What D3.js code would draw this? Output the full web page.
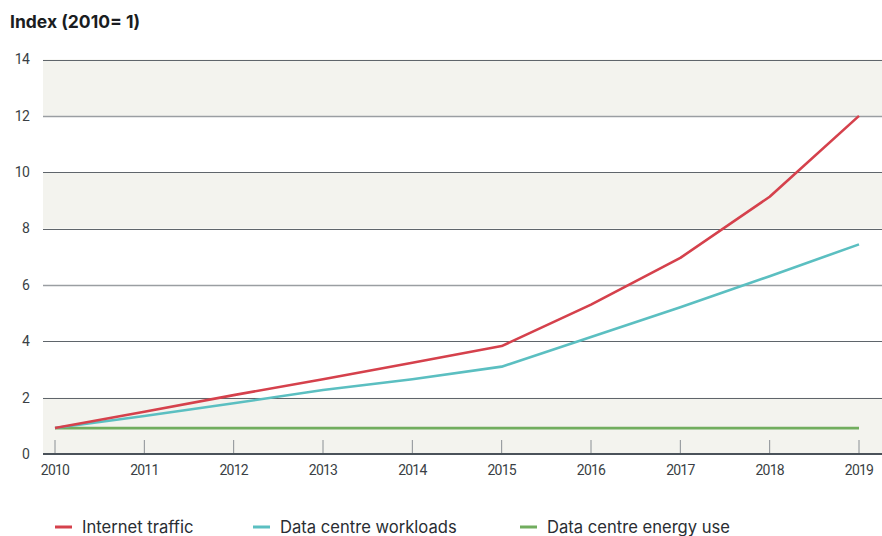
<!DOCTYPE html>
<html><head><meta charset="utf-8">
<script src="https://cdn.jsdelivr.net/npm/d3@7"></script>
<style>
body{margin:0;background:#fff;}
svg{display:block;}
.tick-lbl{font-family:"Roboto",sans-serif;font-size:14px;fill:#3a3f45;letter-spacing:-0.8px;}
</style>
</head><body>
<svg id="c" width="882" height="536"></svg>
<script>
const years = [2010,2011,2012,2013,2014,2015,2016,2017,2018,2019];
const internetTraffic = [0.92,1.50,2.09,2.65,3.24,3.83,5.30,6.96,9.13,12.0];
const dcWorkloads = [0.92,1.35,1.80,2.27,2.65,3.10,4.15,5.21,6.31,7.44];
const dcEnergy = [0.92,0.92,0.92,0.92,0.92,0.92,0.92,0.92,0.92,0.92];
const yTicks = [0,2,4,6,8,10,12,14];
const shadedBands = [[0,2],[8,10],[12,14]];
const seriesNames = ["Internet traffic","Data centre workloads","Data centre energy use"];
const seriesColors = ["#d5414c","#5bbfc1","#71ad5e"];
const title = "Index (2010= 1)";

const svg = d3.select("#c");
const x = d3.scaleLinear().domain([2010,2019]).range([55,859]);
const y = d3.scaleLinear().domain([0,14]).range([454,59.5]);
const left = 43, right = 882;

svg.append("g").selectAll("rect").data(shadedBands).join("rect")
  .attr("x",left).attr("width",right-left)
  .attr("y",d=>y(d[1])).attr("height",d=>y(d[0])-y(d[1]))
  .attr("fill","#f3f3ee");

svg.append("g").selectAll("line").data(yTicks.filter(t=>t>0)).join("line")
  .attr("x1",left).attr("x2",right)
  .attr("y1",d=>Math.round(y(d))+0.5).attr("y2",d=>Math.round(y(d))+0.5)
  .attr("stroke",d=>(d===12||d===6)?"#9a9ea2":"#5f656b").attr("stroke-width",d=>(d===12||d===6)?1.5:1);

svg.append("g").selectAll("text").data(yTicks).join("text")
  .attr("class","tick-lbl")
  .attr("x",29).attr("y",d=>y(d)).attr("dy","0.35em")
  .attr("text-anchor","end").text(d=>d);

svg.append("g").selectAll("line").data(years).join("line")
  .attr("x1",d=>x(d)).attr("x2",d=>x(d))
  .attr("y1",440).attr("y2",454)
  .attr("stroke","#8a8f94").attr("stroke-width",1);

const line = d3.line().x((d,i)=>x(years[i])).y(d=>y(d));
const allSeries = [internetTraffic,dcWorkloads,dcEnergy];
svg.append("g").selectAll("path").data([2,1,0]).join("path")
  .attr("d",i=>line(allSeries[i]))
  .attr("fill","none").attr("stroke",i=>seriesColors[i])
  .attr("stroke-width",2.6).attr("stroke-linejoin","round");

svg.append("line").attr("x1",left).attr("x2",right)
  .attr("y1",y(0)).attr("y2",y(0))
  .attr("stroke","#4a525a").attr("stroke-width",2);

svg.append("g").selectAll("text").data(years).join("text")
  .attr("class","tick-lbl")
  .attr("x",d=>x(d)).attr("y",475)
  .attr("text-anchor","middle").text(d=>d);

svg.append("text").attr("x",10).attr("y",28)
  .attr("font-family","Inter, Roboto, sans-serif").attr("font-weight","bold")
  .attr("font-size","17.5px").attr("fill","#1a1d21").text(title);

const legendX = [55,253,520];
const lg = svg.append("g").selectAll("g").data(seriesNames).join("g")
  .attr("transform",(d,i)=>`translate(${legendX[i]},527)`);
lg.append("line").attr("x1",0).attr("x2",17).attr("y1",0).attr("y2",0)
  .attr("stroke",(d,i)=>seriesColors[i]).attr("stroke-width",3);
lg.append("text").attr("x",27).attr("y",0).attr("dy","0.35em")
  .attr("font-family","Inter, Roboto, sans-serif").attr("font-size","16.6px")
  .attr("fill","#2a2e33").text(d=>d);
</script>
</body></html>
